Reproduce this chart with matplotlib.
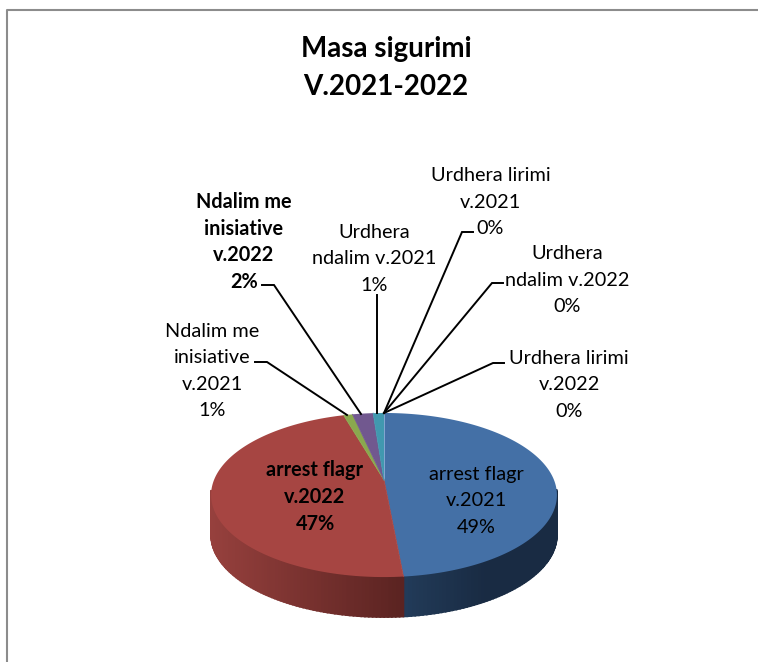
import numpy as np
import matplotlib as mpl
mpl.use("Agg")
import matplotlib.pyplot as plt
from matplotlib.colors import to_rgb

plt.rcParams['font.family'] = ['Lato', 'DejaVu Sans']

# values, clockwise from 12 o'clock
names = ['arrest flagr\nv.2021', 'arrest flagr\nv.2022', 'Ndalim me\ninisiative\nv.2021',
         'Ndalim me\ninisiative\nv.2022', 'Urdhera\nndalim v.2021', 'Urdhera lirimi\nv.2021',
         'Urdhera\nndalim v.2022', 'Urdhera lirimi\nv.2022']
values = [48.51, 46.99, 1.0, 2.3, 1.2, 0.0, 0.0, 0.0]
colors = ['#4470A6', '#A64542', '#8AA84E', '#71588F', '#4198AF', '#DB843D', '#93A9CF', '#D19392']
bold = [False, True, False, True, False, False, False, False]

# label block centre (pixels) and leader line points
label_pos = [(476, 501), (315, 497), (212, 371), (244, 242), (374, 259), (490.5, 202), (567.5, 280), (569, 385)]
leaders = [None, None,
           [(255, 362), (267, 362), (347, 415)],
           [(262, 285), (274, 285), (361, 414)],
           [(377, 295), (377, 413)],
           [(473, 232), (462, 232), (384, 413)],
           [(503, 283), (492, 283), (384, 413)],
           [(504, 363), (493, 363), (384, 413)]]

cx, cy = 384, 480
a, b, k = 170, 79.3, -0.183
depth = 40


def project(theta):
    # tilted circle, the apex sits above the middle of the ellipse
    u, v = np.sin(theta), -np.cos(theta)
    return cx + a * u / (1 + k * v), cy + b * v / (1 + k * v)


def wall_color(i, x):
    # side wall shading goes dark to the middle of the front
    if i == 0:
        t = np.clip((x - 404) / 80, 0, 1)
        c0, c1 = np.array(to_rgb('#223B59')), np.array(to_rgb('#192B43'))
    else:
        t = np.clip((x - 211) / 193, 0, 1)
        c0, c1 = np.array(to_rgb('#96403D')), np.array(to_rgb('#5A2321'))
    return c0 + (c1 - c0) * t


fig = plt.figure(figsize=(7.58, 6.62), dpi=100)
ax = fig.add_axes([0, 0, 1, 1])
ax.set_xlim(0, 758)
ax.set_ylim(662, 0)
ax.axis('off')

# chart frame
ax.plot([7, 7, 758], [662, 9.5, 9.5], color='#8c8c8c', lw=1.5)

edges = np.deg2rad(np.cumsum([0] + values) * 3.6)

# side wall, only the two big slices reach the front
for i in range(2):
    th = np.linspace(edges[i], edges[i + 1], 160)
    xs, ys = project(th)
    for j in range(len(th) - 1):
        if ys[j] < 490 and ys[j + 1] < 490:
            continue
        c = wall_color(i, (xs[j] + xs[j + 1]) / 2)
        ax.fill([xs[j], xs[j + 1], xs[j + 1], xs[j]],
                [ys[j], ys[j + 1], ys[j + 1] + depth, ys[j] + depth],
                facecolor=c, edgecolor=c, lw=1.2, zorder=2, antialiased=True)

# top face
for i, v in enumerate(values):
    if v <= 0:
        continue
    th = np.linspace(edges[i], edges[i + 1], 200)
    xs, ys = project(th)
    ax.fill(np.r_[cx, xs], np.r_[cy, ys], color=colors[i], lw=0, zorder=3)
    ax.plot(np.r_[cx, xs[0]], np.r_[cy, ys[0]], color='#8fb0d8' if i == 0 else colors[i], lw=0.6, zorder=4)

# labels and leaders
for i, name in enumerate(names):
    pct = f'{values[i]:.0f}'
    ax.text(label_pos[i][0], label_pos[i][1], f'{name}\n{pct}%', ha='center', va='center',
            fontsize=14.3, linespacing=1.41 if bold[i] else 1.645, color='black', zorder=6,
            fontweight='bold' if bold[i] else 'normal')
    if leaders[i]:
        px, py = zip(*leaders[i])
        ax.plot(px, py, color='black', lw=1.4, zorder=5, solid_joinstyle='miter')

ax.text(386, 68, 'Masa sigurimi\nV.2021-2022', ha='center', va='center', fontsize=20,
        fontweight='bold', linespacing=1.55, color='black')

fig.savefig('out.png', dpi=100)
